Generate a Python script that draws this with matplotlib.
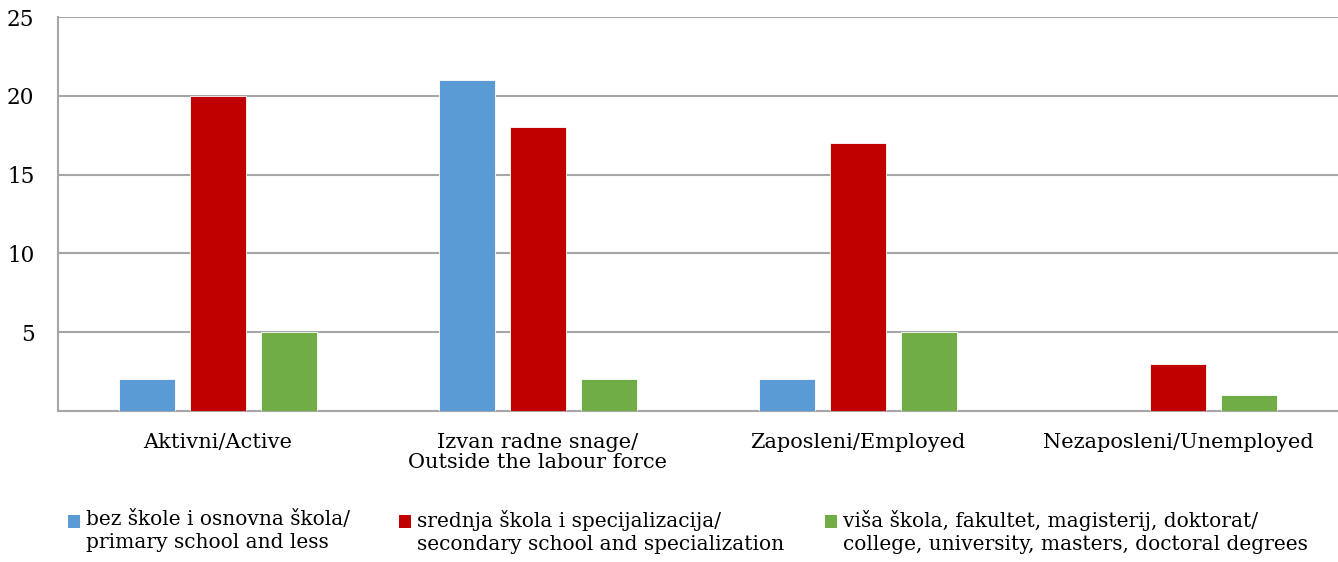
import matplotlib.pyplot as plt
import numpy as np
from matplotlib.patches import Rectangle

categories = ["Aktivni/Active", "Izvan radne snage/\nOutside the labour force",
              "Zaposleni/Employed", "Nezaposleni/Unemployed"]
series_names = ["bez škole i osnovna škola/\nprimary school and less",
                "srednja škola i specijalizacija/\nsecondary school and specialization",
                "viša škola, fakultet, magisterij, doktorat/\ncollege, university, masters, doctoral degrees"]
primary = [2, 21, 2, 0]
secondary = [20, 18, 17, 3]
college = [5, 2, 5, 1]
colors = ["#5B9BD5", "#C00000", "#70AD47"]

W, H = 1338, 562
plt.rcParams['font.family'] = ['DejaVu Serif']
plt.rcParams['font.size'] = 15

fig = plt.figure(figsize=(W / 100, H / 100), dpi=100)
ax = fig.add_axes([58 / W, 1 - 411 / H, 1280 / W, 394 / H])

x = np.arange(len(categories))
width = 0.175
offset = 0.222
for i, vals in enumerate([primary, secondary, college]):
    ax.bar(x + (i - 1) * offset, vals, width=width, color=colors[i],
           edgecolor="white", linewidth=0.6, zorder=3)

ax.set_xlim(-0.5, len(categories) - 0.5)
ax.set_ylim(0, 25)
ax.set_yticks([5, 10, 15, 20, 25])
ax.set_xticks(x)
ax.set_xticklabels(categories, linespacing=1.05)
ax.tick_params(length=0)
ax.tick_params(axis='x', pad=16)
ax.tick_params(axis='y', pad=17, labelsize=15.5)
ax.grid(axis='y', color="#A6A6A6", linewidth=1.5, zorder=0)
for s in ["top", "right"]:
    ax.spines[s].set_visible(False)
for s in ["left", "bottom"]:
    ax.spines[s].set_color("#A6A6A6")
    ax.spines[s].set_linewidth(1.5)

# legend drawn by hand: marker beside first line of each two-line label
legend_x = [68, 399, 825]
for lx, c, name in zip(legend_x, colors, series_names):
    fig.patches.append(Rectangle((lx / W, 1 - 528 / H), 12 / W, 13 / H,
                                 facecolor=c, transform=fig.transFigure))
    fig.text((lx + 18) / W, 1 - 510 / H, name, ha="left", va="top",
             linespacing=1.25, fontsize=14.5)

fig.savefig("out.png", dpi=100)
